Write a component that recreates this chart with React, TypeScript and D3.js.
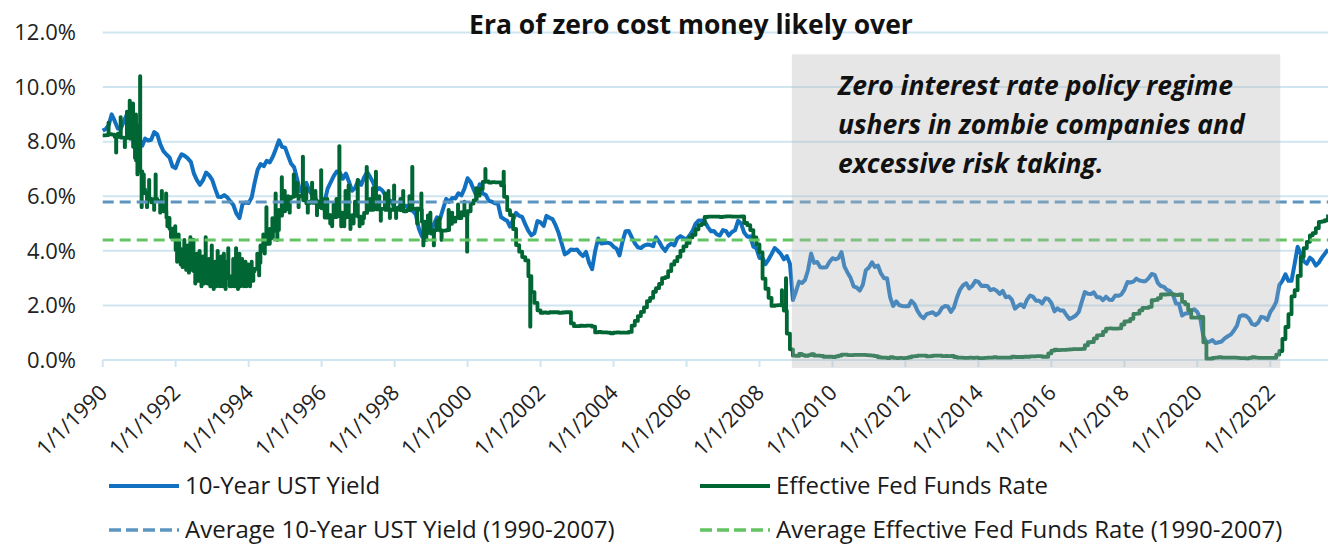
import React from 'react'
import * as d3 from 'd3'

// monthly values starting Jan 1990
const UST_10Y = [
  8.40, 8.47, 8.59, 9.00, 8.76, 8.48, 8.47, 8.75, 9.00, 8.72, 8.39, 8.08,
  8.09, 7.85, 8.11, 8.04, 8.07, 8.35, 8.27, 7.90, 7.65, 7.53, 7.42, 7.09,
  7.03, 7.34, 7.54, 7.48, 7.39, 7.26, 6.84, 6.59, 6.42, 6.59, 6.87, 6.77,
  6.60, 6.26, 5.98, 5.97, 6.04, 5.96, 5.81, 5.68, 5.36, 5.20, 5.72, 5.77,
  5.75, 5.97, 6.48, 6.97, 7.18, 7.10, 7.30, 7.24, 7.46, 7.74, 8.05, 7.81,
  7.78, 7.47, 7.20, 7.06, 6.63, 6.17, 6.28, 6.49, 6.20, 6.04, 5.93, 5.71,
  5.65, 5.81, 6.27, 6.51, 6.74, 6.91, 6.87, 6.64, 6.83, 6.53, 6.20, 6.30,
  6.58, 6.42, 6.69, 6.89, 6.71, 6.49, 6.22, 6.30, 6.21, 6.03, 5.88, 5.81,
  5.54, 5.57, 5.65, 5.64, 5.65, 5.50, 5.46, 5.34, 4.81, 4.53, 4.83, 4.65,
  4.72, 5.00, 5.23, 5.18, 5.54, 5.90, 5.79, 5.94, 5.92, 6.11, 6.03, 6.28,
  6.66, 6.52, 6.26, 5.99, 6.44, 6.10, 6.05, 5.83, 5.80, 5.74, 5.72, 5.24,
  5.16, 5.10, 4.89, 5.14, 5.39, 5.28, 5.24, 4.97, 4.73, 4.57, 4.65, 5.09,
  5.04, 4.91, 5.28, 5.21, 5.16, 4.93, 4.65, 4.26, 3.87, 3.94, 4.05, 4.03,
  4.05, 3.90, 3.81, 3.96, 3.57, 3.33, 3.98, 4.45, 4.27, 4.29, 4.30, 4.27,
  4.15, 4.08, 3.83, 4.35, 4.72, 4.73, 4.50, 4.28, 4.13, 4.10, 4.19, 4.23,
  4.22, 4.17, 4.50, 4.34, 4.14, 4.00, 4.18, 4.26, 4.20, 4.46, 4.54, 4.47,
  4.42, 4.57, 4.72, 4.99, 5.11, 5.11, 5.09, 4.88, 4.72, 4.73, 4.60, 4.56,
  4.76, 4.72, 4.56, 4.69, 4.75, 5.10, 5.00, 4.67, 4.52, 4.53, 4.15, 4.10,
  3.74, 3.74, 3.51, 3.68, 3.88, 4.10, 4.01, 3.89, 3.69, 3.81, 3.53, 2.20,
  2.52, 2.87, 2.82, 2.93, 3.29, 3.90, 3.56, 3.59, 3.40, 3.39, 3.40, 3.59,
  3.73, 3.69, 3.73, 3.95, 3.42, 3.20, 3.01, 2.70, 2.65, 2.54, 2.76, 3.29,
  3.39, 3.58, 3.41, 3.46, 3.17, 3.00, 3.00, 2.30, 1.98, 2.15, 2.01, 1.98,
  1.97, 1.97, 2.17, 2.05, 1.80, 1.62, 1.53, 1.68, 1.72, 1.75, 1.65, 1.72,
  1.91, 1.98, 1.96, 1.76, 1.93, 2.30, 2.58, 2.74, 2.81, 2.62, 2.72, 2.90,
  2.86, 2.71, 2.72, 2.71, 2.56, 2.60, 2.54, 2.42, 2.53, 2.30, 2.33, 2.21,
  1.88, 1.98, 2.04, 1.94, 2.20, 2.36, 2.32, 2.17, 2.17, 2.07, 2.26, 2.24,
  2.09, 1.78, 1.89, 1.81, 1.81, 1.64, 1.50, 1.56, 1.63, 1.76, 2.14, 2.49,
  2.43, 2.42, 2.48, 2.30, 2.30, 2.19, 2.32, 2.21, 2.20, 2.36, 2.35, 2.40,
  2.58, 2.86, 2.84, 2.87, 2.98, 2.91, 2.89, 2.89, 3.00, 3.15, 3.12, 2.83,
  2.71, 2.68, 2.57, 2.53, 2.40, 2.07, 2.06, 1.63, 1.70, 1.71, 1.81, 1.86,
  1.76, 1.50, 0.87, 0.66, 0.67, 0.73, 0.62, 0.65, 0.68, 0.79, 0.87, 0.93,
  1.08, 1.26, 1.61, 1.64, 1.62, 1.52, 1.32, 1.28, 1.37, 1.58, 1.56, 1.47,
  1.76, 1.93, 2.13, 2.75, 2.90, 3.14, 2.90, 2.90, 3.52, 4.15, 3.89, 3.62,
  3.53, 3.75, 3.66, 3.46, 3.57, 3.75, 3.90, 4.05,
]

const EFFR = [
  8.23, 8.24, 8.28, 8.26, 8.18, 8.29, 8.15, 8.13, 8.20, 8.11, 7.81, 7.31,
  6.91, 6.25, 6.12, 5.91, 5.78, 5.90, 5.82, 5.66, 5.45, 5.21, 4.81, 4.43,
  4.03, 4.06, 3.98, 3.73, 3.82, 3.76, 3.25, 3.30, 3.22, 3.10, 3.09, 2.92,
  3.02, 3.03, 3.07, 2.96, 3.00, 3.04, 3.06, 3.03, 3.09, 2.99, 3.02, 2.96,
  3.05, 3.25, 3.34, 3.56, 4.01, 4.25, 4.26, 4.47, 4.73, 4.76, 5.29, 5.45,
  5.53, 5.92, 5.98, 6.05, 6.01, 6.00, 5.85, 5.74, 5.80, 5.76, 5.80, 5.60,
  5.56, 5.22, 5.31, 5.22, 5.24, 5.27, 5.40, 5.22, 5.30, 5.24, 5.31, 5.29,
  5.25, 5.19, 5.39, 5.51, 5.50, 5.56, 5.52, 5.54, 5.54, 5.50, 5.52, 5.50,
  5.56, 5.51, 5.49, 5.45, 5.49, 5.56, 5.54, 5.55, 5.51, 5.07, 4.83, 4.68,
  4.63, 4.76, 4.81, 4.74, 4.74, 4.76, 4.99, 5.07, 5.22, 5.20, 5.42, 5.30,
  5.45, 5.73, 5.85, 6.02, 6.27, 6.53, 6.54, 6.50, 6.52, 6.51, 6.51, 6.40,
  5.98, 5.49, 5.31, 4.80, 4.21, 3.97, 3.77, 3.65, 3.07, 2.49, 2.09, 1.82,
  1.73, 1.74, 1.73, 1.75, 1.75, 1.75, 1.73, 1.74, 1.75, 1.75, 1.34, 1.24,
  1.24, 1.26, 1.25, 1.26, 1.26, 1.22, 1.01, 1.03, 1.01, 1.01, 1.00, 0.98,
  1.00, 1.01, 1.00, 1.00, 1.00, 1.03, 1.26, 1.43, 1.61, 1.76, 1.93, 2.16,
  2.28, 2.50, 2.63, 2.79, 3.00, 3.04, 3.26, 3.50, 3.62, 3.78, 4.00, 4.16,
  4.29, 4.49, 4.59, 4.79, 4.94, 4.99, 5.24, 5.25, 5.25, 5.25, 5.25, 5.24,
  5.25, 5.26, 5.26, 5.25, 5.25, 5.25, 5.26, 5.02, 4.94, 4.76, 4.49, 4.24,
  3.94, 2.98, 2.61, 2.28, 1.98, 2.00, 2.01, 2.00, 1.81, 0.97, 0.39, 0.16,
  0.15, 0.22, 0.18, 0.15, 0.18, 0.21, 0.16, 0.16, 0.15, 0.12, 0.12, 0.12,
  0.11, 0.13, 0.16, 0.20, 0.20, 0.18, 0.18, 0.19, 0.19, 0.19, 0.19, 0.18,
  0.17, 0.16, 0.14, 0.10, 0.09, 0.09, 0.07, 0.10, 0.08, 0.07, 0.08, 0.07,
  0.08, 0.10, 0.13, 0.14, 0.16, 0.16, 0.16, 0.13, 0.14, 0.16, 0.16, 0.16,
  0.14, 0.15, 0.14, 0.15, 0.11, 0.09, 0.09, 0.08, 0.08, 0.09, 0.08, 0.09,
  0.07, 0.07, 0.08, 0.09, 0.09, 0.10, 0.09, 0.09, 0.09, 0.09, 0.09, 0.12,
  0.11, 0.11, 0.11, 0.12, 0.12, 0.13, 0.13, 0.14, 0.14, 0.12, 0.12, 0.24,
  0.34, 0.38, 0.36, 0.37, 0.37, 0.38, 0.39, 0.40, 0.40, 0.40, 0.41, 0.54,
  0.65, 0.66, 0.79, 0.90, 0.91, 1.04, 1.15, 1.16, 1.15, 1.15, 1.16, 1.30,
  1.41, 1.42, 1.51, 1.69, 1.70, 1.82, 1.91, 1.91, 1.95, 2.19, 2.20, 2.27,
  2.40, 2.40, 2.41, 2.42, 2.39, 2.38, 2.40, 2.13, 2.04, 1.83, 1.55, 1.55,
  1.55, 1.58, 0.65, 0.05, 0.05, 0.08, 0.09, 0.10, 0.09, 0.09, 0.09, 0.09,
  0.09, 0.08, 0.07, 0.07, 0.06, 0.08, 0.10, 0.09, 0.08, 0.08, 0.08, 0.08,
  0.08, 0.08, 0.20, 0.33, 0.77, 1.21, 1.68, 2.33, 2.56, 3.08, 3.78, 4.10,
  4.33, 4.57, 4.65, 4.83, 5.06, 5.08, 5.12, 5.33,
]

// one-day moves of the daily fed funds rate visible in the chart
const EFFR_SPIKES: [string, number][] = [
  ['1990-02-28', 8.7], ['1990-05-15', 7.6], ['1990-06-29', 8.9], ['1990-08-10', 7.8],
  ['1990-08-31', 9.1], ['1990-09-28', 9.5], ['1990-10-12', 8.6], ['1990-10-31', 9.4],
  ['1990-11-20', 7.4], ['1990-11-30', 9.0], ['1990-12-14', 6.8], ['1990-12-28', 8.6],
  ['1991-01-10', 10.4], ['1991-01-25', 5.6], ['1991-02-15', 6.8], ['1991-03-20', 5.6],
  ['1991-04-10', 6.6], ['1991-05-30', 5.5], ['1991-06-14', 6.8], ['1991-07-30', 5.4],
  ['1991-08-15', 6.2], ['1991-09-27', 6.1], ['1991-10-10', 4.9], ['1991-11-15', 4.5],
  ['1991-12-27', 4.9],
  ['1992-01-15', 3.6], ['1992-01-31', 4.6], ['1992-02-05', 4.3], ['1992-02-20', 3.5],
  ['1992-03-10', 3.4], ['1992-03-27', 4.4], ['1992-04-15', 3.3], ['1992-04-30', 4.2],
  ['1992-05-12', 3.2], ['1992-05-27', 4.5], ['1992-06-12', 3.3], ['1992-06-26', 4.4],
  ['1992-07-15', 2.8], ['1992-07-31', 3.9], ['1992-08-12', 2.9], ['1992-08-27', 4.0],
  ['1992-09-15', 2.7], ['1992-09-30', 3.8], ['1992-10-12', 2.8], ['1992-10-27', 4.5],
  ['1992-11-15', 2.8], ['1992-11-30', 3.7], ['1992-12-12', 2.7], ['1992-12-27', 4.2],
  ['1993-01-15', 2.6], ['1993-01-29', 3.6], ['1993-02-10', 2.7], ['1993-02-24', 4.0],
  ['1993-03-15', 2.7], ['1993-03-31', 3.8], ['1993-04-12', 2.7], ['1993-04-27', 3.9],
  ['1993-05-14', 2.6], ['1993-05-28', 3.6], ['1993-06-10', 4.1], ['1993-06-25', 2.7],
  ['1993-07-15', 2.7], ['1993-07-30', 3.7], ['1993-08-12', 2.7], ['1993-08-27', 4.1],
  ['1993-09-15', 2.6], ['1993-09-30', 3.9], ['1993-10-12', 2.7], ['1993-10-27', 3.7],
  ['1993-11-15', 2.7], ['1993-11-30', 3.6], ['1993-12-10', 2.7], ['1993-12-27', 3.5],
  ['1994-01-14', 2.7], ['1994-01-31', 3.6], ['1994-02-15', 2.9], ['1994-03-28', 3.9],
  ['1994-04-15', 3.1], ['1994-04-29', 4.2], ['1994-05-27', 4.6], ['1994-06-10', 3.9],
  ['1994-06-27', 5.6], ['1994-07-29', 4.8], ['1994-08-26', 5.2], ['1994-09-27', 6.1],
  ['1994-10-14', 4.4], ['1994-10-31', 5.5], ['1994-11-28', 6.7], ['1994-12-27', 6.2],
  ['1995-01-31', 6.0], ['1995-02-15', 5.4], ['1995-03-28', 6.8], ['1995-04-28', 6.5],
  ['1995-05-15', 5.6], ['1995-06-27', 7.45], ['1995-07-31', 6.3], ['1995-08-15', 5.4],
  ['1995-09-27', 6.5], ['1995-10-31', 6.2], ['1995-11-15', 5.3], ['1995-12-27', 6.96],
  ['1996-01-31', 5.9], ['1996-02-26', 5.9], ['1996-03-27', 5.0], ['1996-04-15', 4.9],
  ['1996-04-30', 5.7], ['1996-05-28', 5.9], ['1996-06-26', 7.84], ['1996-07-15', 4.9],
  ['1996-08-14', 4.9], ['1996-08-27', 6.2], ['1996-09-27', 6.4], ['1996-10-15', 4.8],
  ['1996-11-15', 5.0], ['1996-11-29', 5.8], ['1996-12-27', 6.6],
  ['1997-01-15', 4.9], ['1997-02-14', 5.0], ['1997-03-27', 7.08], ['1997-04-30', 5.9],
  ['1997-05-28', 6.3], ['1997-06-27', 6.9], ['1997-07-31', 6.0], ['1997-08-15', 5.1],
  ['1997-09-26', 6.1], ['1997-10-31', 6.2], ['1997-11-14', 5.2], ['1997-12-26', 6.4],
  ['1998-01-15', 5.2], ['1998-02-27', 5.9], ['1998-03-27', 6.2], ['1998-05-29', 6.0],
  ['1998-06-26', 7.08], ['1998-08-14', 5.0], ['1998-09-25', 6.1], ['1998-10-15', 4.2],
  ['1998-11-13', 4.4], ['1998-11-30', 5.3], ['1998-12-24', 5.4],
  ['1999-01-28', 4.2], ['1999-02-26', 5.1], ['1999-03-26', 5.2], ['1999-04-15', 4.4],
  ['1999-06-25', 5.5], ['1999-07-30', 5.4], ['1999-09-27', 5.7], ['1999-11-30', 5.8],
  ['1999-12-27', 3.97],
  ['2000-03-27', 6.3], ['2000-06-27', 7.0], ['2000-12-27', 6.9],
  ['2001-09-19', 1.22],
  ['2008-08-12', 2.56], ['2008-09-22', 3.0],
]

const AVG_UST_1990_2007 = 5.79
const AVG_EFFR_1990_2007 = 4.4
const Y_TICKS = [0, 2, 4, 6, 8, 10, 12]
const ZIRP_START = '2008-11-20'
const ZIRP_END = '2022-04-10'

const TITLE = 'Era of zero cost money likely over'
const NOTE_LINES = [
  'Zero interest rate policy regime',
  'ushers in zombie companies and',
  'excessive risk taking.',
]

const BLUE = '#1170bf'
const GREEN = '#006633'
const AVG_BLUE = '#5d95c1'
const AVG_GREEN = '#62c462'
const GRID = '#cfe6f1'
const FONT = '"Open Sans", "Noto Sans", sans-serif'

const LEGEND = [
  { label: '10-Year UST Yield', color: BLUE, dashed: false, x: 109, y: 486 },
  { label: 'Effective Fed Funds Rate', color: GREEN, dashed: false, x: 700, y: 486 },
  { label: 'Average 10-Year UST Yield (1990-2007)', color: AVG_BLUE, dashed: true, x: 109, y: 530 },
  { label: 'Average Effective Fed Funds Rate (1990-2007)', color: AVG_GREEN, dashed: true, x: 700, y: 530 },
]

type Pt = { date: Date; value: number }

const parse = d3.timeParse('%Y-%m-%d')
const monthIndex = (d: Date) => (d.getFullYear() - 1990) * 12 + d.getMonth()

const ustPoints: Pt[] = UST_10Y.map((v, i) => ({ date: new Date(1990, i, 1), value: v }))

const effrPoints: Pt[] = (() => {
  const pts: Pt[] = EFFR.map((v, i) => ({ date: new Date(1990, i, 1), value: v }))
  EFFR_SPIKES.forEach(([s, v]) => {
    const d = parse(s) as Date
    const back = d3.timeDay.offset(d, 2)
    pts.push({ date: d, value: v })
    pts.push({ date: back, value: EFFR[monthIndex(back)] })
  })
  return pts.sort((a, b) => +a.date - +b.date)
})()

export default function App() {
  const width = 1328
  const height = 544
  const x = d3.scaleTime()
    .domain([new Date(1990, 0, 1), new Date(2023, 7, 1)])
    .range([102.7, 1328])
  const y = d3.scaleLinear().domain([0, 12]).range([360, 32.5])

  const ustLine = d3.line<Pt>().x((d) => x(d.date)).y((d) => y(d.value)).curve(d3.curveLinear)
  const effrLine = d3.line<Pt>().x((d) => x(d.date)).y((d) => y(d.value)).curve(d3.curveStepAfter)

  const xTicks = x.ticks(d3.timeYear.every(2) as d3.TimeInterval)
  const fmtDate = d3.timeFormat('%-m/%-d/%Y')
  const [x0, x1] = x.range()

  const boxX0 = x(parse(ZIRP_START) as Date)
  const boxX1 = x(parse(ZIRP_END) as Date)
  const boxTop = y(11.2)
  const boxBottom = y(0) + 8

  return (
    <svg
      width={width}
      height={height}
      style={{ position: 'absolute', left: 0, top: 0, background: '#fff', fontFamily: FONT }}
    >
      {/* gridlines */}
      {Y_TICKS.map((t) => (
        <line key={t} x1={x0} x2={x1} y1={y(t)} y2={y(t)} stroke={GRID} strokeWidth={2} />
      ))}
      {xTicks.map((d) => (
        <line key={+d} x1={x(d)} x2={x(d)} y1={y(0)} y2={y(0) + 7} stroke={GRID} strokeWidth={2} />
      ))}

      <path d={ustLine(ustPoints) || ''} fill="none" stroke={BLUE} strokeWidth={4} strokeLinejoin="round" />
      <path d={effrLine(effrPoints) || ''} fill="none" stroke={GREEN} strokeWidth={3.8} strokeLinejoin="round" />

      <line x1={x0} x2={x1} y1={y(AVG_UST_1990_2007)} y2={y(AVG_UST_1990_2007)}
        stroke={AVG_BLUE} strokeWidth={3} strokeDasharray="11,6" />
      <line x1={x0} x2={x1} y1={y(AVG_EFFR_1990_2007)} y2={y(AVG_EFFR_1990_2007)}
        stroke={AVG_GREEN} strokeWidth={3} strokeDasharray="11,6" />

      {/* zero rate regime shading */}
      <rect x={boxX0} y={boxTop} width={boxX1 - boxX0} height={boxBottom - boxTop} fill="#b6b6b6" fillOpacity={0.35} />
      {NOTE_LINES.map((t, i) => (
        <text key={t} x={838} y={95 + i * 39} fontSize={26.5} fontWeight={700} fontStyle="italic" fill="#111">{t}</text>
      ))}

      {/* y axis labels */}
      {Y_TICKS.map((t) => (
        <text key={t} x={76} y={y(t)} dy="0.35em" textAnchor="end" fontSize={22} fill="#222">
          {d3.format('.1f')(t)}%
        </text>
      ))}

      {/* x axis labels */}
      {xTicks.map((d) => (
        <text key={+d} transform={`translate(${x(d) + 6},${394}) rotate(-45)`} textAnchor="end" fontSize={21.5} fill="#222">
          {fmtDate(d)}
        </text>
      ))}

      <text x={691} y={34} textAnchor="middle" fontSize={26.5} fontWeight={700} fill="#111">{TITLE}</text>

      {/* legend */}
      {LEGEND.map((l) => (
        <g key={l.label}>
          <line x1={l.x} x2={l.x + 70} y1={l.y} y2={l.y} stroke={l.color}
            strokeWidth={l.dashed ? 3.5 : 4} strokeDasharray={l.dashed ? '12,5' : undefined} />
          <text x={l.x + 76} y={l.y} dy="0.35em" fontSize={24} fill="#1a1a1a">{l.label}</text>
        </g>
      ))}
    </svg>
  )
}
